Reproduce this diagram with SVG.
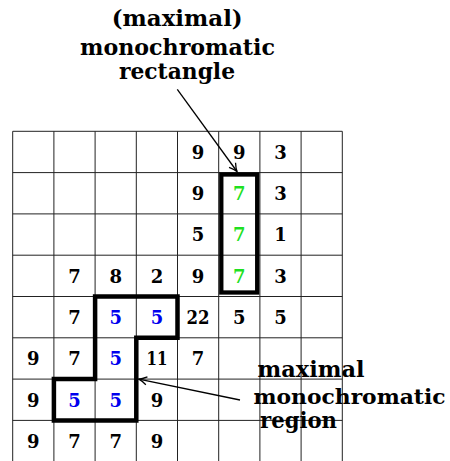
<svg xmlns="http://www.w3.org/2000/svg" width="450" height="461" viewBox="0 0 450 461">
<style>
.grid line{stroke:#222;stroke-width:1}
.n{font-family:"DejaVu Serif",serif;font-weight:bold;font-size:18px;text-anchor:middle;fill:#000}
.g{fill:#1fe01f}
.b{fill:#0000ee}
.lbl{font-family:"DejaVu Serif",serif;font-weight:bold;font-size:22.5px;fill:#000}
.conn{stroke:#000;stroke-width:1.3;fill:none}
</style>
<defs>
<marker id="ah" markerUnits="userSpaceOnUse" markerWidth="14" markerHeight="14" viewBox="-10 -7 12 14" refX="0" refY="0" orient="auto">
<path d="M -8 -4 Q -3 -0.8 0 0 Q -3 0.8 -8 4" stroke="#000" stroke-width="1.3" fill="none"/>
</marker>
</defs>
<rect width="450" height="461" fill="#fff"/>
<g id="grid" class="grid">
<line x1="12.7" y1="131.3" x2="342.3" y2="131.3"/>
<line x1="12.7" y1="172.6" x2="342.3" y2="172.6"/>
<line x1="12.7" y1="213.9" x2="342.3" y2="213.9"/>
<line x1="12.7" y1="255.2" x2="342.3" y2="255.2"/>
<line x1="12.7" y1="296.5" x2="342.3" y2="296.5"/>
<line x1="12.7" y1="337.8" x2="342.3" y2="337.8"/>
<line x1="12.7" y1="379.1" x2="342.3" y2="379.1"/>
<line x1="12.7" y1="420.4" x2="342.3" y2="420.4"/>
<line x1="12.7" y1="131.3" x2="12.7" y2="461.7"/>
<line x1="53.9" y1="131.3" x2="53.9" y2="461.7"/>
<line x1="95.1" y1="131.3" x2="95.1" y2="461.7"/>
<line x1="136.3" y1="131.3" x2="136.3" y2="461.7"/>
<line x1="177.5" y1="131.3" x2="177.5" y2="461.7"/>
<line x1="218.7" y1="131.3" x2="218.7" y2="461.7"/>
<line x1="259.9" y1="131.3" x2="259.9" y2="461.7"/>
<line x1="301.1" y1="131.3" x2="301.1" y2="461.7"/>
<line x1="342.3" y1="131.3" x2="342.3" y2="461.7"/>
</g>
<g id="numbers">
<text class="n" x="198.1" y="158.8">9</text>
<text class="n" x="239.3" y="158.8">9</text>
<text class="n" x="280.5" y="158.8">3</text>
<text class="n" x="198.1" y="200.1">9</text>
<text class="n g" x="239.3" y="200.1">7</text>
<text class="n" x="280.5" y="200.1">3</text>
<text class="n" x="198.1" y="241.4">5</text>
<text class="n g" x="239.3" y="241.4">7</text>
<text class="n" x="280.5" y="241.4">1</text>
<text class="n" x="74.5" y="282.7">7</text>
<text class="n" x="115.7" y="282.7">8</text>
<text class="n" x="156.9" y="282.7">2</text>
<text class="n" x="198.1" y="282.7">9</text>
<text class="n g" x="239.3" y="282.7">7</text>
<text class="n" x="280.5" y="282.7">3</text>
<text class="n" x="74.5" y="324">7</text>
<text class="n b" x="115.7" y="324">5</text>
<text class="n b" x="156.9" y="324">5</text>
<text class="n" x="198.1" y="324" textLength="23" lengthAdjust="spacingAndGlyphs">22</text>
<text class="n" x="239.3" y="324">5</text>
<text class="n" x="280.5" y="324">5</text>
<text class="n" x="33.3" y="365.3">9</text>
<text class="n" x="74.5" y="365.3">7</text>
<text class="n b" x="115.7" y="365.3">5</text>
<text class="n" x="156.9" y="365.3" textLength="21" lengthAdjust="spacingAndGlyphs">11</text>
<text class="n" x="198.1" y="365.3">7</text>
<text class="n" x="33.3" y="406.6">9</text>
<text class="n b" x="74.5" y="406.6">5</text>
<text class="n b" x="115.7" y="406.6">5</text>
<text class="n" x="156.9" y="406.6">9</text>
<text class="n" x="33.3" y="447.9">9</text>
<text class="n" x="74.5" y="447.9">7</text>
<text class="n" x="115.7" y="447.9">7</text>
<text class="n" x="156.9" y="447.9">9</text>
</g>
<g id="rectangle">
<rect x="221.3" y="174.5" width="35.9" height="118" fill="none" stroke="#000" stroke-width="4.3"/>
</g>
<g id="region">
<polygon points="95.1,296.5 177.5,296.5 177.5,337.8 136.3,337.8 136.3,420.4 53.9,420.4 53.9,379.1 95.1,379.1" fill="none" stroke="#000" stroke-width="4.5" stroke-linejoin="miter"/>
</g>
<g id="label-rectangle">
<text class="lbl" x="111.7" y="26" textLength="131" lengthAdjust="spacingAndGlyphs">(maximal)</text>
<text class="lbl" x="80" y="54.5" textLength="195" lengthAdjust="spacingAndGlyphs">monochromatic</text>
<text class="lbl" x="119" y="79" textLength="116" lengthAdjust="spacingAndGlyphs">rectangle</text>
</g>
<g id="label-region">
<text class="lbl" x="257.5" y="377" textLength="107" lengthAdjust="spacingAndGlyphs">maximal</text>
<text class="lbl" x="253.5" y="403.5" style="font-size:21.3px" textLength="192" lengthAdjust="spacingAndGlyphs">monochromatic</text>
<text class="lbl" x="260" y="427.5" textLength="77" lengthAdjust="spacingAndGlyphs">region</text>
</g>
<g id="connectors">
<line class="conn" x1="177.3" y1="89.3" x2="237" y2="171.5" marker-end="url(#ah)"/>
<line class="conn" x1="240" y1="400" x2="138.8" y2="379.2" marker-end="url(#ah)"/>
</g>
</svg>
